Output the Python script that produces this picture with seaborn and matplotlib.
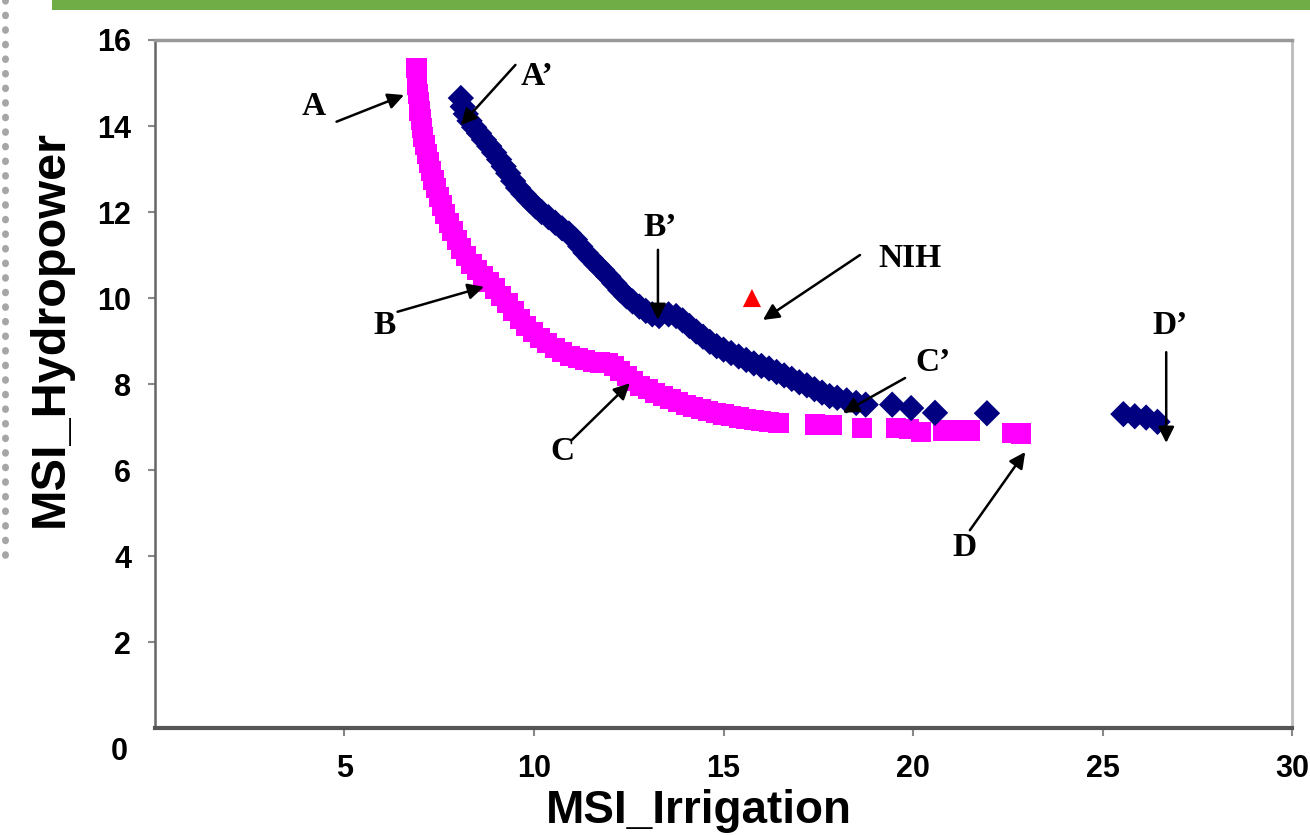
import seaborn as sns
import pandas as pd
import matplotlib.pyplot as plt
from matplotlib.lines import Line2D
from matplotlib.patches import Rectangle

# pink squares (A-B-C-D curve)
pink_x = [6.90, 6.91, 6.92, 6.94, 6.96, 6.98, 7.01, 7.04, 7.08, 7.12, 7.17, 7.22, 7.28, 7.35,
          7.42, 7.50, 7.58, 7.66, 7.75, 7.85, 7.96, 8.08, 8.20, 8.35, 8.50, 8.66, 8.82, 8.98,
          9.14, 9.30, 9.46, 9.62, 9.80, 9.98, 10.16, 10.35, 10.55, 10.75, 10.95, 11.15, 11.35,
          11.55, 11.75, 11.95, 12.12, 12.28, 12.45, 12.62, 12.80, 13.00, 13.20, 13.40, 13.60,
          13.80, 14.00, 14.20, 14.40, 14.60, 14.80, 15.00, 15.20, 15.40, 15.60, 15.80, 16.00,
          16.20, 16.45, 17.42, 17.85, 18.65, 19.55, 19.90, 20.20, 20.80, 21.15, 21.50, 22.62, 22.85]
pink_y = [15.35, 15.15, 14.95, 14.75, 14.55, 14.35, 14.15, 13.95, 13.75, 13.55, 13.35, 13.15,
          12.95, 12.75, 12.55, 12.35, 12.15, 11.95, 11.75, 11.55, 11.35, 11.15, 10.97, 10.80,
          10.65, 10.52, 10.38, 10.22, 10.05, 9.88, 9.70, 9.52, 9.35, 9.20, 9.06, 8.95, 8.84,
          8.74, 8.66, 8.60, 8.56, 8.52, 8.50, 8.48, 8.42, 8.30, 8.18, 8.06, 7.96, 7.88, 7.80,
          7.72, 7.65, 7.58, 7.52, 7.47, 7.42, 7.37, 7.33, 7.29, 7.25, 7.22, 7.19, 7.16, 7.14,
          7.12, 7.10, 7.06, 7.05, 6.98, 6.98, 6.96, 6.88, 6.92, 6.92, 6.92, 6.87, 6.85]

# navy diamonds (A'-B'-C'-D' curve)
navy_x = [8.07, 8.12, 8.20, 8.30, 8.42, 8.55, 8.68, 8.82, 8.95, 9.08, 9.20, 9.32, 9.45, 9.58,
          9.72, 9.88, 10.04, 10.20, 10.38, 10.56, 10.74, 10.92, 11.08, 11.22, 11.36, 11.50,
          11.65, 11.80, 11.96, 12.12, 12.28, 12.44, 12.60, 12.78, 12.95, 13.12, 13.30, 13.55,
          13.75, 13.92, 14.10, 14.28, 14.46, 14.64, 14.82, 15.00, 15.20, 15.40, 15.60, 15.80,
          16.00, 16.20, 16.40, 16.60, 16.80, 17.00, 17.20, 17.40, 17.60, 17.80, 18.00, 18.25,
          18.50, 18.75, 19.45, 19.95, 20.58, 21.95, 25.55, 25.85, 26.15, 26.45]
navy_y = [14.65, 14.45, 14.28, 14.12, 13.97, 13.83, 13.68, 13.53, 13.38, 13.22, 13.06, 12.90,
          12.72, 12.56, 12.42, 12.27, 12.13, 12.00, 11.88, 11.75, 11.62, 11.50, 11.36, 11.20,
          11.05, 10.92, 10.78, 10.65, 10.50, 10.34, 10.18, 10.04, 9.92, 9.80, 9.70, 9.62, 9.58,
          9.62, 9.58, 9.48, 9.35, 9.22, 9.10, 8.98, 8.88, 8.80, 8.72, 8.64, 8.56, 8.48, 8.42,
          8.36, 8.28, 8.20, 8.12, 8.04, 7.97, 7.88, 7.80, 7.72, 7.68, 7.62, 7.56, 7.52, 7.52,
          7.44, 7.33, 7.32, 7.30, 7.25, 7.22, 7.12]

nih_x = [15.75]
nih_y = [10.0]

x_ticks = [5, 10, 15, 20, 25, 30]
y_ticks = [2, 4, 6, 8, 10, 12, 14, 16]

# label, text position, arrow tail, arrow head
labels = ["A", "A\u2019", "B", "B\u2019", "NIH", "C", "C\u2019", "D", "D\u2019"]
label_pos = [(4.18, 14.45), (10.07, 15.15), (6.07, 9.37), (13.32, 11.63), (19.92, 10.93),
             (10.74, 6.42), (20.53, 8.51), (21.37, 4.19), (26.78, 9.35)]
arrow_tail = [(4.79, 14.10), (9.51, 15.42), (6.40, 9.68), (13.27, 11.12), (18.60, 11.00),
              (11.00, 6.70), (19.79, 8.14), (21.50, 4.60), (26.68, 8.74)]
arrow_head = [(6.57, 14.72), (8.07, 14.02), (8.68, 10.26), (13.27, 9.49), (16.04, 9.49),
              (12.53, 8.02), (18.15, 7.33), (22.96, 6.42), (26.68, 6.63)]

pink_df = pd.DataFrame({"irr": pink_x, "hyd": pink_y})
navy_df = pd.DataFrame({"irr": navy_x, "hyd": navy_y})
nih_df = pd.DataFrame({"irr": nih_x, "hyd": nih_y})

sns.set_style("white")
plt.rcParams["font.family"] = ["Liberation Sans", "DejaVu Sans"]
plt.rcParams["text.color"] = "black"
plt.rcParams["axes.labelcolor"] = "black"
plt.rcParams["xtick.labelcolor"] = "black"
plt.rcParams["ytick.labelcolor"] = "black"

fig = plt.figure(figsize=(13.1, 8.35), dpi=100)
ax = fig.add_axes([0.1183, 0.1281, 0.868, 0.824])

sns.scatterplot(data=pink_df, x="irr", y="hyd", ax=ax, marker="s", s=210,
                color="#FF00FF", edgecolor="none", zorder=3)
sns.scatterplot(data=navy_df, x="irr", y="hyd", ax=ax, marker="D", s=180,
                color="#000080", edgecolor="none", zorder=4)
sns.scatterplot(data=nih_df, x="irr", y="hyd", ax=ax, marker="^", s=170,
                color="#FF0000", edgecolor="none", zorder=4)

for lab, tp, tail, head in zip(labels, label_pos, arrow_tail, arrow_head):
    ax.annotate("", xy=head, xytext=tail,
                arrowprops=dict(arrowstyle="-|>", color="black", lw=1.8,
                                mutation_scale=24, shrinkA=0, shrinkB=0),
                zorder=5)
    ax.text(tp[0], tp[1], lab, ha="center", va="center", fontsize=24,
            fontweight="bold", family=["Liberation Serif", "DejaVu Serif"], zorder=6)

ax.set_xlim(0, 30)
ax.set_ylim(0, 16)
ax.set_xticks(x_ticks)
ax.set_yticks(y_ticks)
ax.set_xticklabels([str(t) for t in x_ticks], fontsize=22, fontweight="bold")
ax.set_yticklabels([str(t) for t in y_ticks], fontsize=22, fontweight="bold")
ax.tick_params(axis="x", direction="out", length=6, width=1.5, color="#888888", pad=13, bottom=True)
ax.tick_params(axis="y", direction="out", length=5, width=1.5, color="#888888", pad=12, left=True)
ax.text(-0.031, -0.035, "0", transform=ax.transAxes, ha="center", va="center",
        fontsize=22, fontweight="bold")

ax.set_xlabel("MSI_Irrigation", fontsize=33, fontweight="bold")
ax.set_ylabel("MSI_Hydropower", fontsize=35, fontweight="bold")
ax.xaxis.set_label_coords(0.478, -0.088)
ax.yaxis.set_label_coords(-0.072, 0.581)

ax.spines["bottom"].set_color("#555555")
ax.spines["bottom"].set_linewidth(3)
ax.spines["left"].set_color("#666666")
ax.spines["left"].set_linewidth(1.8)
ax.spines["top"].set_color("#999999")
ax.spines["top"].set_linewidth(2.5)
ax.spines["right"].set_color("#bbbbbb")
ax.spines["right"].set_linewidth(2)

# green bar on top and dotted frame on the left
fig.patches.append(Rectangle((0.0397, 0.988), 0.97, 0.012, transform=fig.transFigure,
                             facecolor="#70AD47", edgecolor="none"))
fig.lines.append(Line2D([0.004, 0.004], [1.0, 0.325], transform=fig.transFigure,
                        color="#A6A6A6", lw=5, linestyle=(0, (0.1, 2.0)),
                        dash_capstyle="round"))

fig.savefig("out.png", dpi=100)
